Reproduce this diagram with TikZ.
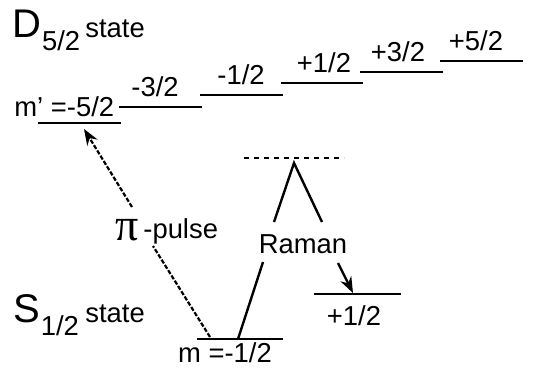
\documentclass[tikz,border=0pt]{standalone}
\usepackage{fontspec}
\setmainfont{Liberation Sans}
\newfontfamily\pifont{Liberation Serif}
\usetikzlibrary{arrows.meta}

\tikzset{
    lvl/.style={line width=1.2pt},
    txt/.style={inner sep=0pt,font=\fontsize{13.7}{16}\selectfont},
    big/.style={inner sep=0pt,font=\fontsize{20}{22}\selectfont},
    pulse/.style={line width=1.1pt,dash pattern=on 2.2pt off 0.9pt},
    raman/.style={line width=1.2pt}
}

\begin{document}
\begin{tikzpicture}[x=0.5pt,y=-0.5pt,line cap=butt,line join=miter]
    \useasboundingbox (0,0) rectangle (544,375);
    % state names
    \node[big,anchor=base west] (dname) at (12,37) {D};
    \node[txt,anchor=base west] (dsub) at ([yshift=-6.5pt]dname.base east) {5/2};
    \node[txt,anchor=base west] (dstate) at (85,37) {state};
    \node[big,anchor=base west] (sname) at (13,322) {S};
    \node[txt,anchor=base west] (ssub) at ([yshift=-6.5pt]sname.base east) {1/2};
    \node[txt,anchor=base west] (sstate) at (85,322) {state};
    % D levels
    \coordinate (d5l) at (38,123); \coordinate (d5r) at (121,123);
    \draw[lvl] (d5l) -- (d5r);
    \node[txt,anchor=base west] (d5t) at (14,116) {m\char"0027{} =-5/2};
    \foreach \n/\xa/\xb/\y/\xt/\t in {d3/119/202/107/155/{-3/2}, d1/200/283/95/241/{-1/2},
        u1/281/363/83/324/{+1/2}, u3/360/443/72/398/{+3/2}, u5/440/523/61/476/{+5/2}}{
        \coordinate (\n l) at (\xa,\y); \coordinate (\n r) at (\xb,\y);
        \draw[lvl] (\n l) -- (\n r);
        \node[txt,anchor=base] (\n t) at (\xt,\y-11) {\t};
    }
    % S levels
    \coordinate (sml) at (197,339); \coordinate (smr) at (283,339);
    \draw[lvl] (sml) -- (smr);
    \node[txt,anchor=base] (smt) at (225,362) {m =-1/2};
    \coordinate (spl) at (314,294); \coordinate (spr) at (401,294);
    \draw[lvl] (spl) -- (spr);
    \node[txt,anchor=base] (spt) at (354,325) {+1/2};
    % virtual level
    \coordinate (vl) at (244,158); \coordinate (vr) at (344,158);
    \draw[line width=1.1pt,dash pattern=on 2.6pt off 2.4pt] (vl) -- (vr);
    % pi-pulse
    \node[inner sep=0pt,anchor=base east,font=\pifont\fontsize{23}{24}\selectfont] (pi) at (139,240) {π};
    \node[txt,anchor=base west] (pls) at (143,238) {-pulse};
    \coordinate (pa) at (210,337); \coordinate (pb) at (153,246);
    \coordinate (pc) at (132,207); \coordinate (pd) at (84,129);
    \draw[pulse] (pa) -- (pb);
    \draw[pulse,-{Stealth[length=8pt,width=6pt]}] (pc) -- (pd);
    % Raman
    \node[txt,anchor=base] (ram) at (303,253) {Raman};
    \coordinate (ra) at (238,339); \coordinate (rb) at (263,262);
    \coordinate (rc) at (274,222); \coordinate (rp) at (294,163);
    \coordinate (rd) at (322,222); \coordinate (re) at (338,263);
    \coordinate (rf) at (353,293);
    \draw[raman] (ra) -- (rb);
    \draw[raman] (rc) -- (rp) -- (rd);
    \draw[raman,-{Stealth[length=8pt,width=6pt]}] (re) -- (rf);
\end{tikzpicture}
\end{document}
